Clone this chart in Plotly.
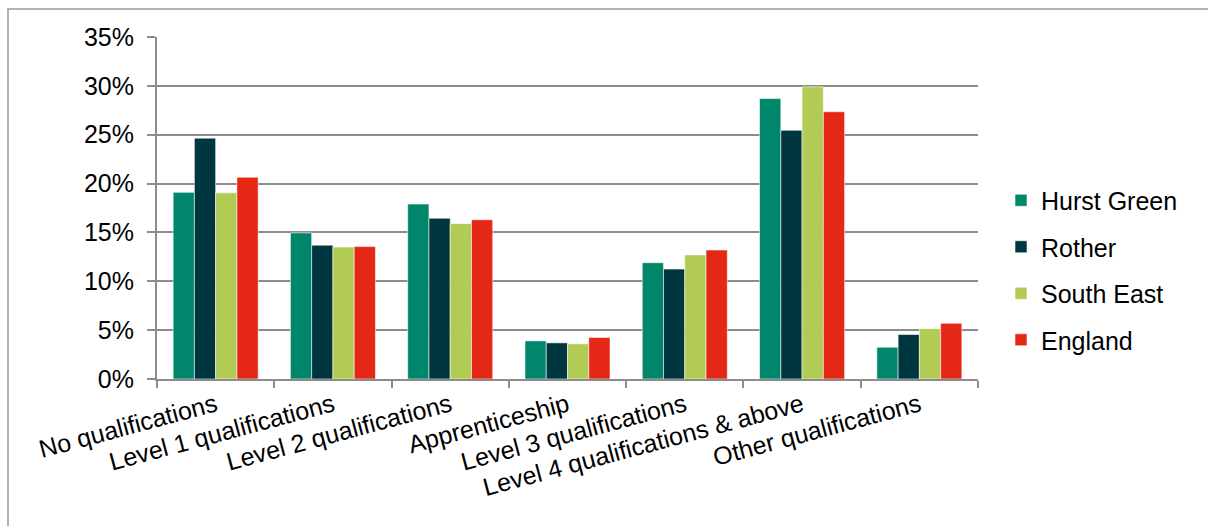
import plotly.graph_objects as go

categories = [
    "No qualifications",
    "Level 1 qualifications",
    "Level 2 qualifications",
    "Apprenticeship",
    "Level 3 qualifications",
    "Level 4 qualifications & above",
    "Other qualifications",
]

hurst_green = [19.1, 14.95, 17.9, 3.9, 11.9, 28.7, 3.25]
rother = [24.65, 13.7, 16.45, 3.7, 11.25, 25.45, 4.55]
south_east = [19.05, 13.5, 15.9, 3.6, 12.7, 29.9, 5.15]
england = [20.65, 13.55, 16.3, 4.25, 13.2, 27.35, 5.7]

y_ticks = [0, 5, 10, 15, 20, 25, 30, 35]
y_tick_labels = ["0%", "5%", "10%", "15%", "20%", "25%", "30%", "35%"]

series = [
    ("Hurst Green", hurst_green, "#00866A"),
    ("Rother", rother, "#00363F"),
    ("South East", south_east, "#B1CB55"),
    ("England", england, "#E52816"),
]

FONT = "Liberation Sans, Arial, sans-serif"
FS = 25
GRID = "#8c8c8c"

fig = go.Figure()
for name, vals, color in series:
    fig.add_trace(go.Bar(
        name=name,
        x=categories,
        y=vals,
        legendgroup=name,
        marker=dict(color=color, line=dict(color="rgba(255,255,255,0.55)", width=1)),
    ))

W, H = 1208, 526
left, right, top, bottom = 157, 230, 37, 147

# outer chart frame
plot_w = W - left - right
plot_h = H - top - bottom
fig.add_shape(
    type="rect", xref="paper", yref="paper",
    x0=(8 - left) / plot_w, x1=(W + 20 - left) / plot_w,
    y0=-(bottom + 20) / plot_h, y1=(H - bottom - 9) / plot_h,
    line=dict(color="#9a9a9a", width=1.5), fillcolor="rgba(0,0,0,0)",
    layer="below",
)

fig.update_layout(
    width=W, height=H,
    margin=dict(l=left, r=right, t=top, b=bottom),
    paper_bgcolor="white", plot_bgcolor="white",
    barmode="group", bargap=0.275, bargroupgap=0,
    font=dict(family=FONT, size=FS, color="#000000"),
    legend=dict(
        xref="container", yref="container",
        x=1001 / W, y=1 - 270 / H, xanchor="left", yanchor="middle",
        font=dict(size=FS, family=FONT),
        traceorder="grouped", tracegroupgap=11,
        itemwidth=30,
    ),
    showlegend=True,
)

fig.update_xaxes(
    type="category",
    tickangle=-15,
    showline=True, linecolor=GRID, linewidth=2,
    ticks="outside", tickson="boundaries", ticklen=7, tickwidth=2, tickcolor=GRID,
    showgrid=False,
    tickfont=dict(size=FS, family=FONT),
)

fig.update_yaxes(
    range=[0, 35],
    tickmode="array",
    tickvals=y_ticks,
    ticktext=y_tick_labels,
    showline=True, linecolor=GRID, linewidth=2,
    ticks="outside", ticklen=8, tickwidth=2, tickcolor=GRID,
    showgrid=True, gridcolor=GRID, gridwidth=2,
    zeroline=False,
    tickfont=dict(size=FS, family=FONT),
    ticklabelstandoff=8,
)

fig.write_html("out.html")
